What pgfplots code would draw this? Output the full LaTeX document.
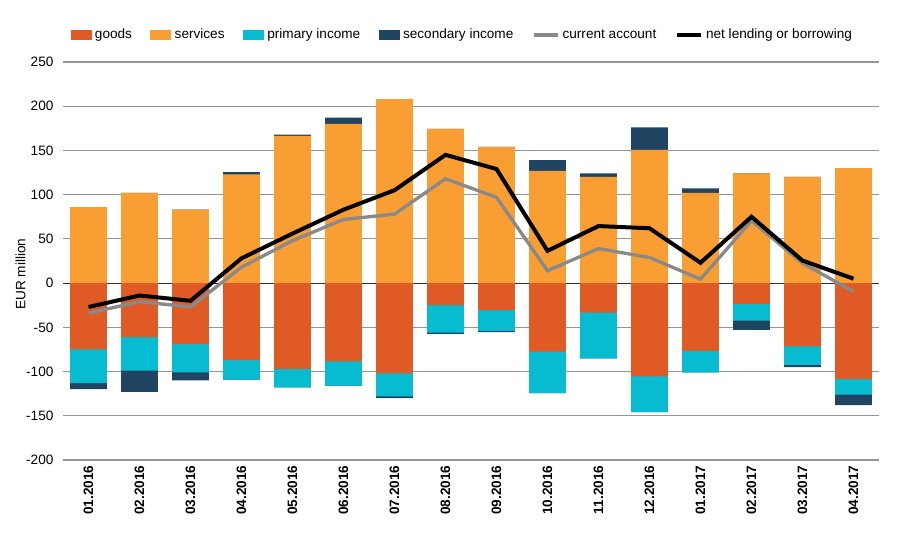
\documentclass[border=0pt]{standalone}
\usepackage{pgfplots}
\usepackage{pgfplotstable}
\pgfplotsset{compat=1.18}
\usepackage{fontspec}
\setmainfont{Liberation Sans}
\definecolor{goodsc}{HTML}{E05A25}
\definecolor{servc}{HTML}{F99E32}
\definecolor{primc}{HTML}{07BCD0}
\definecolor{secc}{HTML}{204563}
\definecolor{cac}{HTML}{898989}
\definecolor{gridc}{HTML}{959595}
\newcommand\cf{\fontsize{10.2pt}{12pt}\selectfont}
\pgfplotsset{
  sqlegend/.style={legend image code/.code={\fill[##1,draw=none] (0pt,-3.6pt) rectangle (15.75pt,3.6pt);}},
  lnlegend/.style={legend image code/.code={\draw[##1] (0pt,0pt) -- (18pt,0pt);}},
}
% x: month index; S: services top; SP: services+positive secondary top;
% G: goods bottom; GP: goods+primary bottom; GPS: goods+primary+negative secondary bottom
\pgfplotstableread{
x  S     SP    G      GP     GPS    CA     NL
0  86    86    -75    -113   -120   -34    -27
1  102   102   -61    -99    -123   -21    -14
2  83    83    -69    -101   -110   -27    -20
3  123   125.5 -87    -109   -109   18     28
4  166.5 168   -97    -118   -118   48     56
5  180   187   -88.5  -116   -116   72     83
6  208   208   -102   -128   -130   78     105
7  174.5 174.5 -25    -56    -57.5  118    145
8  154   154   -30.5  -54    -55.5  97     129
9  127   139   -77.5  -124.5 -124.5 14     36.5
10 120   124   -33.5  -85    -85    39     64.5
11 150.5 176   -105.5 -146   -146   29     62
12 102   107   -76.5  -101   -101   4.5    23
13 124   124   -23.5  -42.5  -53    70.5   75
14 120   120   -71.5  -92.5  -95    22.5   25.5
15 130   130   -108.5 -126   -138   -9.5   5
}\data
\begin{document}
\begin{tikzpicture}
\begin{axis}[
  name=ax,
  scale only axis, width=612pt, height=298.5pt,
  xmin=-0.5, xmax=15.5, ymin=-200, ymax=250,
  ytick={-200,-150,...,250},
  xtick={0,...,15},
  xticklabels={01.2016,02.2016,03.2016,04.2016,05.2016,06.2016,07.2016,08.2016,09.2016,10.2016,11.2016,12.2016,01.2017,02.2017,03.2017,04.2017},
  /pgf/number format/assume math mode=true,
  ymajorgrids, grid style={gridc, line width=0.9pt},
  extra y ticks={0}, extra y tick labels={}, extra y tick style={grid style={black!80, line width=0.9pt}},
  axis line style={draw=none}, tick style={draw=none}, major tick length=0pt,
  yticklabel style={font=\cf, inner sep=0pt, xshift=-7pt},
  xticklabel style={font=\cf\bfseries, rotate=90, anchor=east, inner sep=0pt, xshift=-4pt},
  ylabel={EUR million},
  every axis y label/.style={at={(axis description cs:-0.0521,0.467)}, rotate=90, anchor=center, font=\cf},
  legend columns=6,
  legend style={draw=none, fill=none, font=\cf, at={(axis description cs:0.009,1.068)}, anchor=west,
    inner sep=0pt, column sep=1pt, nodes={inner sep=1.5pt},
    /tikz/every even column/.append style={column sep=12.3pt}},
]
\addlegendimage{sqlegend, fill=goodsc}\addlegendentry{goods}
\addlegendimage{sqlegend, fill=servc}\addlegendentry{services}
\addlegendimage{sqlegend, fill=primc}\addlegendentry{primary income}
\addlegendimage{sqlegend, fill=secc}\addlegendentry{secondary income}
\addlegendimage{lnlegend, cac, line width=2.6pt}\addlegendentry{current account}
\addlegendimage{lnlegend, black, line width=3pt}\addlegendentry{net lending or borrowing}

\addplot[ybar, bar width=0.725, bar shift=0pt, fill=secc, draw=none, forget plot] table[x=x,y=SP]{\data};
\addplot[ybar, bar width=0.725, bar shift=0pt, fill=servc, draw=none, forget plot] table[x=x,y=S]{\data};
\addplot[ybar, bar width=0.725, bar shift=0pt, fill=secc, draw=none, forget plot] table[x=x,y=GPS]{\data};
\addplot[ybar, bar width=0.725, bar shift=0pt, fill=primc, draw=none, forget plot] table[x=x,y=GP]{\data};
\addplot[ybar, bar width=0.725, bar shift=0pt, fill=goodsc, draw=none, forget plot] table[x=x,y=G]{\data};
\addplot[cac, line width=2.5pt, forget plot, line join=miter] table[x=x,y=CA]{\data};
\addplot[black, line width=3pt, forget plot, line join=miter] table[x=x,y=NL]{\data};
\end{axis}
\pgfresetboundingbox
\path[use as bounding box] ([xshift=-47.25pt,yshift=-75pt]ax.south west) rectangle ([xshift=15.75pt,yshift=46.5pt]ax.north east);
\end{tikzpicture}
\end{document}
